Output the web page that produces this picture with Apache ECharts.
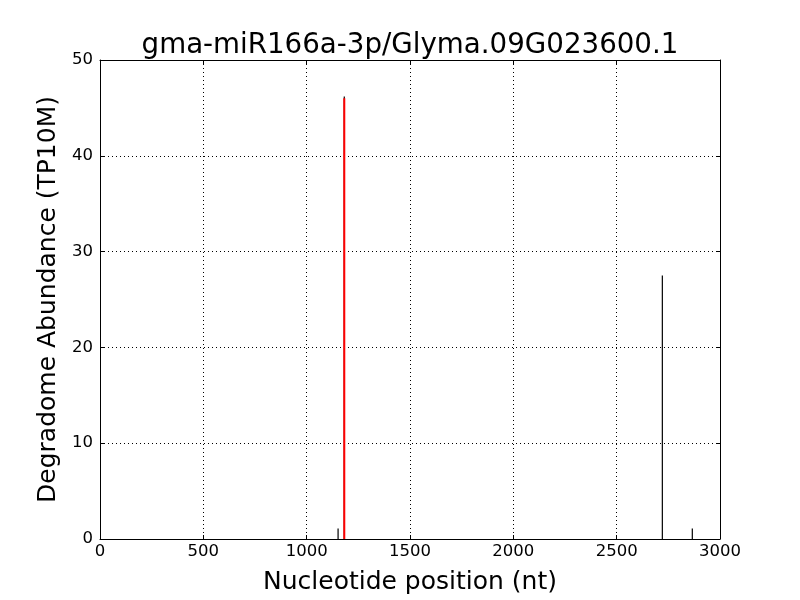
<!DOCTYPE html>
<html>
<head>
<meta charset="utf-8">
<script src="https://cdn.jsdelivr.net/npm/echarts@6/dist/echarts.min.js"></script>
<style>html,body{margin:0;padding:0;background:#fff;}#c{width:800px;height:600px;}</style>
</head>
<body>
<div id="c"></div>
<script>
var titleText = 'gma-miR166a-3p/Glyma.09G023600.1';
var xTicks = [0, 500, 1000, 1500, 2000, 2500, 3000];
var yTicks = [0, 10, 20, 30, 40, 50];
var blackPositions = [1152, 1182, 2721, 2866];
var blackValues = [1.1, 46.2, 27.5, 1.1];
var redPositions = [1182];
var redValues = [46.0];

function toData(pos, val) { return pos.map(function (p, i) { return [p, val[i]]; }); }

function spike(color, width) {
  return function (params, api) {
    var top = api.coord([api.value(0), api.value(1)]);
    var base = api.coord([api.value(0), 0]);
    return {
      type: 'line',
      shape: { x1: top[0], y1: top[1], x2: base[0], y2: base[1] },
      style: { stroke: color, lineWidth: width }
    };
  };
}

var font = 'DejaVu Sans';
var chart = echarts.init(document.getElementById('c'), null, { renderer: 'canvas' });
var axisCommon = {
  type: 'value',
  axisLine: { show: true, onZero: false, lineStyle: { color: '#000', width: 1 } },
  axisTick: { show: true, inside: true, length: 4, lineStyle: { color: '#000' } },
  splitLine: { show: false }
};
chart.setOption({
  animation: false,
  backgroundColor: '#fff',
  title: {
    text: titleText, left: 405, top: 27, textAlign: 'center',
    textStyle: { fontFamily: font, fontSize: 27.7, fontWeight: 'normal', color: '#000' }
  },
  grid: { left: 100, right: 80, top: 60, bottom: 60, show: false },
  xAxis: [
    Object.assign({}, axisCommon, {
      min: 0, max: 3000, interval: 500, position: 'bottom',
      name: 'Nucleotide position (nt)', nameLocation: 'middle', nameGap: 31,
      nameTextStyle: { fontFamily: font, fontSize: 25, color: '#000' },
      axisLabel: { fontFamily: font, fontSize: 16.5, color: '#000', margin: 4,
        formatter: function (v) { return String(v); } },
      splitLine: { show: true, lineStyle: { color: '#000', type: [1, 3], width: 1 } }
    }),
    Object.assign({}, axisCommon, {
      min: 0, max: 3000, interval: 500, position: 'top', axisLabel: { show: false }
    })
  ],
  yAxis: [
    Object.assign({}, axisCommon, {
      min: 0, max: 50, interval: 10, position: 'left',
      name: 'Degradome Abundance (TP10M)', nameLocation: 'middle', nameGap: 30,
      nameTextStyle: { fontFamily: font, fontSize: 25, color: '#000' },
      axisLabel: { fontFamily: font, fontSize: 16.5, color: '#000', margin: 7,
        formatter: function (v) { return String(v); } },
      splitLine: { show: true, lineStyle: { color: '#000', type: [1, 3], width: 1 } }
    }),
    Object.assign({}, axisCommon, {
      min: 0, max: 50, interval: 10, position: 'right', axisLabel: { show: false }
    })
  ],
  series: [
    { type: 'custom', renderItem: spike('#000', 1.2), data: toData(blackPositions, blackValues), xAxisIndex: 0, yAxisIndex: 0, z: 2 },
    { type: 'custom', renderItem: spike('#ff0000', 2), data: toData(redPositions, redValues), xAxisIndex: 0, yAxisIndex: 0, z: 3 }
  ]
});
</script>
</body>
</html>
